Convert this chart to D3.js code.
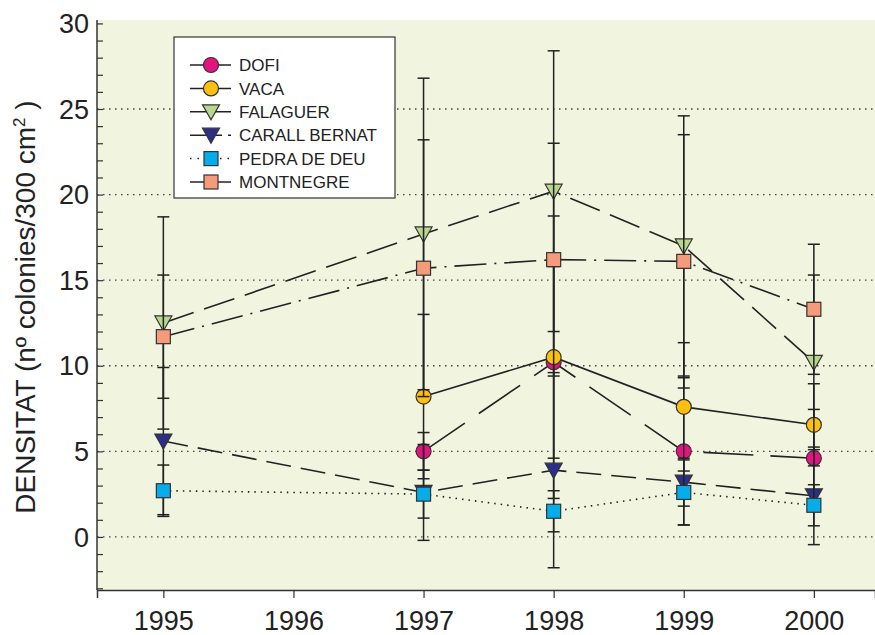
<!DOCTYPE html>
<html>
<head>
<meta charset="utf-8">
<script src="https://cdn.jsdelivr.net/npm/d3@7"></script>
<style>
  body { margin: 0; background: #fff; }
  svg text { font-family: "Liberation Sans", Arial, sans-serif; fill: #222; }
  svg text.num { font-family: "Liberation Sans Narrow", "Arial Narrow", sans-serif; }
</style>
</head>
<body>
<svg class="chart" width="875" height="635"></svg>
<script>
// years on the x axis
const years = [1995, 1996, 1997, 1998, 1999, 2000];
const yTicks = [0, 5, 10, 15, 20, 25, 30];

// series: mean density and error (sd) per year
const dofiYears = [1997, 1998, 1999, 2000];
const dofi      = [5.0, 10.2, 5.0, 4.6];
const dofiErr   = [1.1, 5.6, 4.3, 2.85];

const vacaYears = [1997, 1998, 1999, 2000];
const vaca      = [8.2, 10.5, 7.6, 6.55];
const vacaErr   = [4.8, 8.25, 3.75, 2.4];

const falYears = [1995, 1997, 1998, 1999, 2000];
const falaguer = [12.5, 17.7, 20.2, 17.0, 10.2];
const falErr   = [6.2, 9.1, 8.2, 7.6, 5.1];

const carYears = [1995, 1997, 1998, 1999, 2000];
const carall   = [5.6, 2.6, 3.9, 3.2, 2.4];
const carErr   = [4.3, 2.8, 5.7, 1.4, 2.85];

const pedYears = [1995, 1997, 1998, 1999, 2000];
const pedra    = [2.7, 2.5, 1.5, 2.6, 1.85];
const pedErr   = [1.5, 1.4, 1.2, 1.9, 1.2];

const monYears  = [1995, 1997, 1998, 1999, 2000];
const montnegre = [11.7, 15.7, 16.2, 16.1, 13.3];
const monErr    = [3.6, 7.5, 6.8, 7.4, 3.8];

const series = [
  {name: "DOFI", years: dofiYears, vals: dofi, err: dofiErr, shape: "circle", fill: "#e4137f", dash: "50,17"},
  {name: "VACA", years: vacaYears, vals: vaca, err: vacaErr, shape: "circle", fill: "#fdc010", dash: null},
  {name: "FALAGUER", years: falYears, vals: falaguer, err: falErr, shape: "tri", fill: "#b8d68c", dash: "32,11"},
  {name: "CARALL BERNAT", years: carYears, vals: carall, err: carErr, shape: "tri", fill: "#2b2f87", dash: "25,10"},
  {name: "PEDRA DE DEU", years: pedYears, vals: pedra, err: pedErr, shape: "square", fill: "#05aeea", dash: "1.5,5"},
  {name: "MONTNEGRE", years: monYears, vals: montnegre, err: monErr, shape: "square", fill: "#f69a7c", dash: "32,8,2,8"}
];

let svg = d3.select("svg.chart");
let margin = {top: 20, right: 0, bottom: 45, left: 97};
let width = svg.attr("width") - margin.left - margin.right;
let height = svg.attr("height") - margin.top - margin.bottom;

//define scales
let x = d3.scaleLinear().domain([1994.49, 2000.47]).range([0, width]);
let y = d3.scaleLinear().domain([-3.1, 30.2]).range([height, 0]);

let g = svg.append("g").attr("transform", "translate(" + margin.left + "," + margin.top + ")");

// plot background
g.append("rect")
  .attr("width", width).attr("height", height)
  .attr("fill", "#f1f5df");

// dotted gridlines
g.selectAll(".grid")
  .data(yTicks.slice(0, -1))
  .enter().append("line")
  .attr("x1", 0).attr("x2", width)
  .attr("y1", d => y(d)).attr("y2", d => y(d))
  .attr("stroke", "#444").attr("stroke-width", 1.3)
  .attr("stroke-dasharray", "1.5,4.5");

// y axis: minor ticks every unit, inward
let yAxis = g.append("g").attr("class", "y-axis")
  .call(d3.axisRight(y).tickValues(d3.range(-3, 31)).tickSize(6).tickFormat(""));
yAxis.select(".domain").remove();
yAxis.selectAll("line").attr("stroke", "#333").attr("stroke-width", 1.2);
g.append("line").attr("x1", 0).attr("x2", 0).attr("y1", 0).attr("y2", height)
  .attr("stroke", "#333").attr("stroke-width", 1.5);

// y labels
g.selectAll(".ylab")
  .data(yTicks)
  .enter().append("text")
  .attr("class", "num")
  .attr("x", -8).attr("y", d => y(d)).attr("dy", "0.36em")
  .attr("text-anchor", "end")
  .style("font-size", "27px")
  .text(d => d);

// x axis
let xAxis = g.append("g").attr("class", "x-axis")
  .attr("transform", "translate(0," + height + ")")
  .call(d3.axisBottom(x).tickValues(years).tickSize(8).tickFormat(d3.format("d")));
xAxis.select(".domain").attr("stroke", "#333").attr("stroke-width", 1.5);
xAxis.selectAll("line").attr("stroke", "#333").attr("stroke-width", 1.2);
xAxis.selectAll("text").attr("class", "num").attr("y", 21)
  .style("font-size", "27px").style("fill", "#222")
  .style("font-family", "'Liberation Sans Narrow', 'Arial Narrow', sans-serif");

// y axis title
svg.append("text")
  .attr("transform", "translate(35,307) rotate(-90)")
  .attr("text-anchor", "middle")
  .style("font-size", "28px")
  .html("DENSITAT (nº colonies/300 cm<tspan dy='-10' font-size='17px'>2</tspan><tspan dy='10'> )</tspan>");

function marker(sel, shape, fill) {
  if (shape === "circle") {
    sel.append("circle").attr("r", 7.5);
  } else if (shape === "square") {
    sel.append("rect").attr("x", -7).attr("y", -7).attr("width", 14).attr("height", 14);
  } else {
    sel.append("path").attr("d", "M-8.5,-7L8.5,-7L0,8Z");
  }
  sel.selectAll("*").attr("fill", fill).attr("stroke", "#333").attr("stroke-width", 1.2);
}

// connecting lines
let line = d3.line().x(d => x(d[0])).y(d => y(d[1]));
series.forEach(s => {
  let pts = s.years.map((yr, i) => [yr, s.vals[i]]);
  g.append("path")
    .attr("d", line(pts))
    .attr("fill", "none")
    .attr("stroke", "#222")
    .attr("stroke-width", 1.6)
    .attr("stroke-dasharray", s.dash);
});

// error bars and markers, series by series
series.forEach(s => {
  let pts = s.years.map((yr, i) => ({yr: yr, v: s.vals[i], e: s.err[i]}));
  let eb = g.append("g").attr("stroke", "#222").attr("stroke-width", 1.5);
  pts.forEach(p => {
    let cx = x(p.yr);
    eb.append("line").attr("x1", cx).attr("x2", cx).attr("y1", y(p.v + p.e)).attr("y2", y(p.v - p.e));
    eb.append("line").attr("x1", cx - 6).attr("x2", cx + 6).attr("y1", y(p.v + p.e)).attr("y2", y(p.v + p.e));
    eb.append("line").attr("x1", cx - 6).attr("x2", cx + 6).attr("y1", y(p.v - p.e)).attr("y2", y(p.v - p.e));
  });
  pts.forEach(p => {
    let m = g.append("g").attr("transform", "translate(" + x(p.yr) + "," + y(p.v) + ")");
    marker(m, s.shape, s.fill);
  });
});

// legend
let lg = svg.append("g").attr("transform", "translate(174,37)");
lg.append("rect").attr("width", 221).attr("height", 161)
  .attr("fill", "#fff").attr("stroke", "#333").attr("stroke-width", 1.2);
series.forEach((s, i) => {
  let row = lg.append("g").attr("transform", "translate(0," + (28 + i * 23.4) + ")");
  row.append("line").attr("x1", 16).attr("x2", 57).attr("y1", 0).attr("y2", 0)
    .attr("stroke", "#222").attr("stroke-width", 1.5)
    .attr("stroke-dasharray", s.name === "CARALL BERNAT" ? "32,6" : (s.name === "PEDRA DE DEU" ? "1.5,6" : null));
  let m = row.append("g").attr("transform", "translate(37,0)");
  marker(m, s.shape, s.fill);
  row.append("text").attr("x", 65).attr("y", 0).attr("dy", "0.36em")
    .style("font-size", "17px").text(s.name);
});
</script>
</body>
</html>
